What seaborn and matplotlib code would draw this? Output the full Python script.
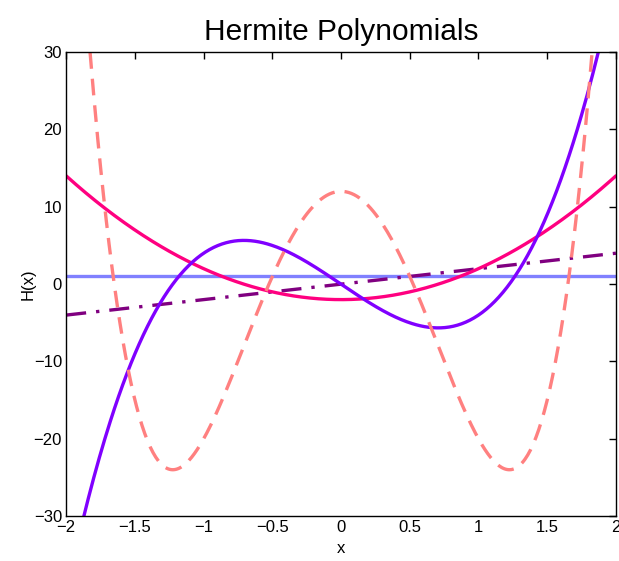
import numpy as np
import matplotlib
matplotlib.use("Agg")
import matplotlib.pyplot as plt
import seaborn as sns

# Hermite polynomial coefficients (highest power first), H0..H4
names = ["H0", "H1", "H2", "H3", "H4"]
coeffs = [
    [1],
    [2, 0],
    [4, 0, -2],
    [8, 0, -12, 0],
    [16, 0, -48, 0, 12],
]
colors = ["#8080ff", "#800080", "#ff0080", "#8000ff", "#ff8080"]
styles = ["-", (0, (6, 3, 1, 3)), "-", "-", (0, (5, 3))]

xticks = [-2, -1.5, -1, -0.5, 0, 0.5, 1, 1.5, 2]
yticks = [-30, -20, -10, 0, 10, 20, 30]

sns.set_style("white")
plt.rcParams['font.family'] = ['Liberation Sans', 'DejaVu Sans']
plt.rcParams['text.color'] = 'black'
plt.rcParams['axes.labelcolor'] = 'black'

x = np.linspace(-2, 2, 400)

fig, ax = plt.subplots(figsize=(6.19, 5.61), dpi=100)
for name, c, col, ls in zip(names, coeffs, colors, styles):
    sns.lineplot(x=x, y=np.polyval(c, x), ax=ax, color=col, linestyle=ls,
                 linewidth=2.4, label=name, legend=False)

ax.set_xlim(-2, 2)
ax.set_ylim(-30, 30)
ax.set_xticks(xticks)
ax.set_xticklabels(["\u22122", "\u22121.5", "\u22121", "\u22120.5", "0", "0.5", "1", "1.5", "2"])
ax.set_yticks(yticks)
ax.set_yticklabels(["\u221230", "\u221220", "\u221210", "0", "10", "20", "30"])
ax.tick_params(direction="in", top=True, right=True, length=5, width=1,
               labelsize=12, colors="black", pad=3)
for s in ax.spines.values():
    s.set_color("black")
    s.set_linewidth(1)
ax.set_title("Hermite Polynomials", fontsize=21.5, pad=9, color="black")
ax.set_xlabel("x", fontsize=12, labelpad=4)
ax.set_ylabel("H(x)", fontsize=12)
ax.yaxis.set_label_coords(-0.055, 0.5)

fig.subplots_adjust(left=0.107, right=0.995, top=0.907, bottom=0.08)
fig.savefig("out.png", dpi=100)
